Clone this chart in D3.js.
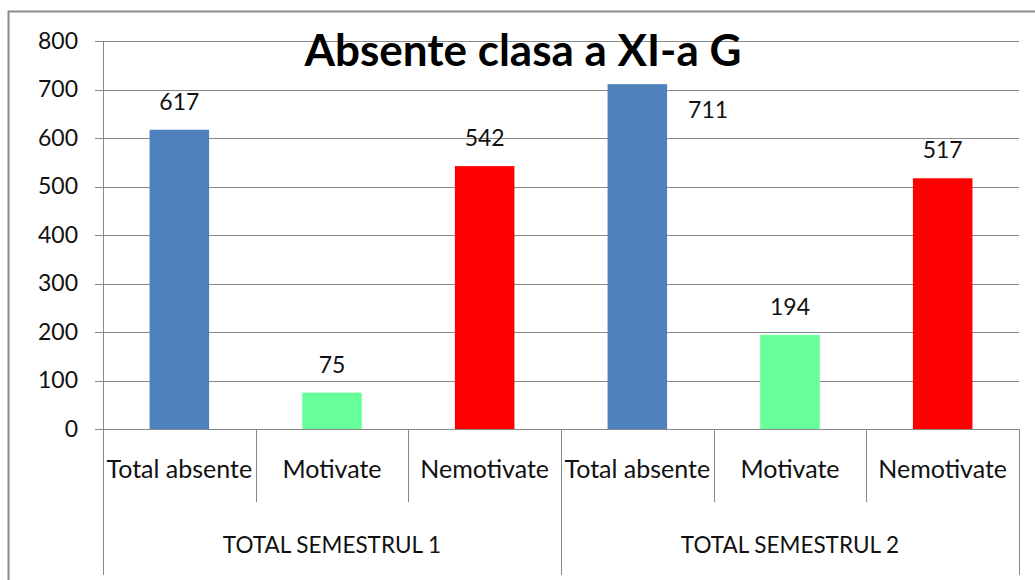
<!DOCTYPE html>
<html><head><meta charset="utf-8">
<script src="https://cdn.jsdelivr.net/npm/d3@7"></script>
<style>body{margin:0;background:#fff}svg{display:block}text{font-family:Lato,"Open Sans",sans-serif}</style>
</head><body>
<svg id="c" width="1035" height="580"></svg>
<script>
const categories = ["Total absente","Motivate","Nemotivate","Total absente","Motivate","Nemotivate"];
const groups = ["TOTAL SEMESTRUL 1","TOTAL SEMESTRUL 2"];
const values = [617,75,542,711,194,517];
const colors = ["#4F81BD","#66FF99","#FF0000","#4F81BD","#66FF99","#FF0000"];
const yTicks = [0,100,200,300,400,500,600,700,800];
const title = "Absente clasa a XI-a G";

const svg = d3.select("#c");
const L=103, R=1019, T=41, B=429;
svg.append("path").attr("d",`M8.5,580 V11.5 H1035`).attr("fill","none").attr("stroke","#8c8c8c").attr("stroke-width",2);

const x = d3.scaleBand().domain(d3.range(categories.length)).range([L,R]).paddingInner(0.61).paddingOuter(0.305);
const xs = d3.scaleLinear().domain([0,categories.length]).range([L,R]);
const y = d3.scaleLinear().domain([0,800]).range([B,T]);

// gridlines
svg.append("g").selectAll("line").data(yTicks).join("line")
 .attr("x1",95).attr("x2",R).attr("y1",d=>Math.round(y(d))+0.5).attr("y2",d=>Math.round(y(d))+0.5)
 .attr("stroke","#888").attr("stroke-width",1);
svg.append("g").selectAll("text").data(yTicks).join("text")
 .attr("x",78).attr("y",d=>y(d)+7.5).attr("text-anchor","end")
 .attr("font-size",23).attr("fill","#111").text(d=>d);

// title
svg.append("text").attr("x",523).attr("y",66).attr("text-anchor","middle")
 .attr("font-size",44).attr("font-weight","bold").attr("fill","#000").text(title);

// bars
svg.append("g").selectAll("rect").data(values).join("rect")
 .attr("x",(d,i)=>x(i)).attr("width",x.bandwidth()).attr("y",d=>y(d)).attr("height",d=>B-y(d))
 .attr("fill",(d,i)=>colors[i]);

// value labels
svg.append("g").selectAll("text").data(values).join("text")
 .attr("x",(d,i)=> i===3 ? x(i)+x.bandwidth()+41 : x(i)+x.bandwidth()/2)
 .attr("y",(d,i)=> i===3 ? y(d)+34 : y(d)-20).attr("text-anchor","middle")
 .attr("font-size",23).attr("fill","#111").text(d=>d);

// axes lines
svg.append("line").attr("x1",L+0.5).attr("x2",L+0.5).attr("y1",T).attr("y2",575).attr("stroke","#888");
svg.selectAll(".sep").data(d3.range(1,categories.length+1)).join("line")
 .attr("x1",d=>Math.round(xs(d))+0.5).attr("x2",d=>Math.round(xs(d))+0.5)
 .attr("y1",B).attr("y2",d=> d%3===0 ? 575 : 502).attr("stroke","#888");

svg.append("g").selectAll("text").data(categories).join("text")
 .attr("x",(d,i)=>xs(i+0.5)).attr("y",478).attr("text-anchor","middle")
 .attr("font-size",25).attr("fill","#111").text(d=>d);
svg.append("g").selectAll("text").data(groups).join("text")
 .attr("x",(d,i)=>xs(i*3+1.5)).attr("y",553).attr("text-anchor","middle")
 .attr("font-size",22.5).attr("fill","#111").text(d=>d);
</script>
</body></html>
